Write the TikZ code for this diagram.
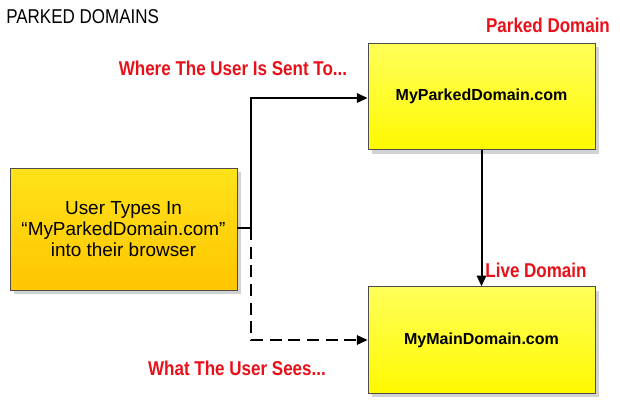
\documentclass[tikz,border=0pt]{standalone}
\usepackage{fontspec}
\setmainfont{Liberation Sans}
\newfontfamily\cond[FakeStretch=0.85]{Liberation Sans}
\usetikzlibrary{arrows.meta,shadows}
\definecolor{redt}{HTML}{E8111A}
\tikzset{
 box/.style={draw=black!70,line width=0.6pt,minimum width=170.25pt,minimum height=80pt,
   align=center,drop shadow={shadow xshift=3pt,shadow yshift=-3pt,fill=black!35}},
 ybox/.style={box,top color=yellow!65!white,bottom color=yellow!95!orange},
 obox/.style={box,top color=yellow!75!orange!90!white,bottom color=orange!45!yellow,minimum height=91.5pt},
 lbl/.style={text=redt,font=\cond\bfseries\fontsize{15}{17}\selectfont},
 conn/.style={line width=1.5pt,-{Triangle[length=8pt,width=7pt]}}
}
\begin{document}
\begin{tikzpicture}[x=0.75pt,y=-0.75pt]
\useasboundingbox[fill=white] (0,0) rectangle (620,419);
\node[anchor=west,inner sep=0pt,font=\cond\fontsize{15}{17}\selectfont] (title) at (6,17) {PARKED DOMAINS};
\node[obox,font=\fontsize{14.2}{16}\selectfont] (user) at (123.5,229) {User Types In\\“MyParkedDomain.com”\\into their browser};
\node[ybox,font=\bfseries\fontsize{12}{14}\selectfont] (parked) at (481.5,96.5) {MyParkedDomain.com};
\node[ybox,font=\bfseries\fontsize{12}{14}\selectfont] (main) at (481.5,340) {MyMainDomain.com};
\coordinate (j) at (251,228);
\draw[line width=1.5pt] (user.east |- j) -- (j);
\draw[conn] (j) |- (parked.west |- 0,98);
\draw[conn,dashed,dash pattern=on 9pt off 5pt] (j) |- (main.west |- 0,340);
\draw[conn] (parked) -- (main);
\node[lbl] (l1) at (548,25) {Parked Domain};
\node[lbl] (l2) at (233,68) {Where The User Is Sent To...};
\node[lbl] (l3) at (536,270) {Live Domain};
\node[lbl] (l4) at (237,368) {What The User Sees...};
\end{tikzpicture}
\end{document}
